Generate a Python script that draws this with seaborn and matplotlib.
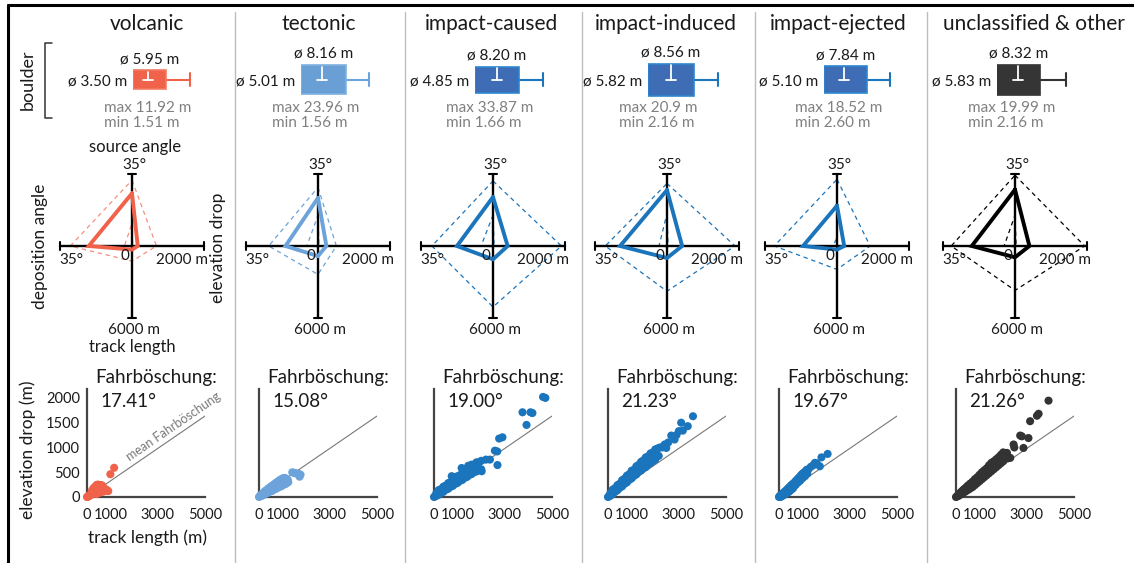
import numpy as np
import matplotlib
matplotlib.use("Agg")
import matplotlib.pyplot as plt
import seaborn as sns
from matplotlib.lines import Line2D

# ---------------- data ----------------
categories = ["volcanic", "tectonic", "impact-caused", "impact-induced",
              "impact-ejected", "unclassified & other"]

# boulder diameters (m)
boulder_q1 = [3.50, 5.01, 4.85, 5.82, 5.10, 5.83]
boulder_q3 = [5.95, 8.16, 8.20, 8.56, 7.84, 8.32]
boulder_med = [4.60, 6.46, 6.50, 7.17, 6.38, 7.05]
boulder_whisker = [7.73, 9.77, 10.03, 9.99, 9.31, 9.83]
boulder_max = ["11.92", "23.96", "33.87", "20.9", "18.52", "19.99"]
boulder_min = ["1.51", "1.56", "1.66", "2.16", "2.60", "2.16"]
boulder_count_h = [19, 29, 26, 32, 27, 30]   # relative box heights

# radar: source angle (deg), elevation drop (m), track length (m), deposition angle (deg)
src_mean = [25.6, 23.4, 23.8, 27.2, 19.6, 27.4]
elev_mean = [160, 233, 407, 420, 200, 400]
track_mean = [300, 840, 1110, 1000, 300, 940]
dep_mean = [21.0, 15.8, 17.5, 22.8, 16.5, 21.0]

src_max = [32.0, 28.5, 31.6, 30.4, 32.4, 34.4]
elev_max = [680, 510, 1900, 1890, 920, 1935]
track_max = [1260, 2370, 5080, 3770, 1950, 3700]
dep_max = [30.0, 24.0, 29.7, 30.0, 30.5, 31.0]

src_min = [11.0, 15.0, 15.0, 15.8, 4.0, 15.0]
elev_min = [20, 30, 30, 30, 10, 30]
track_min = [60, 60, 60, 60, 30, 60]
dep_min = [3.7, 5.4, 5.8, 3.9, 2.0, 5.3]

radar_max_src, radar_max_elev, radar_max_track, radar_max_dep = 35, 2000, 6000, 35

fahrboeschung = ["17.41", "15.08", "19.00", "21.23", "19.67", "21.26"]
mean_fahr_angle = 18.1

# scatter: track length (m) vs elevation drop (m)
vx = [0, 20, 40, 60, 80, 100, 120, 150, 180, 200, 220, 250, 280, 300, 320, 350, 380, 400,
      420, 450, 480, 500, 520, 550, 580, 600, 620, 650, 680, 700, 730, 760, 800, 830, 870,
      900, 200, 250, 300, 350, 400, 450, 500, 550, 600, 650, 400, 500, 600, 700, 990, 1150]
vy = [0, 5, 15, 10, 25, 20, 35, 45, 55, 70, 60, 80, 95, 105, 90, 115, 130, 120,
      150, 165, 140, 180, 200, 220, 190, 240, 210, 230, 200, 185, 170, 160, 150, 140, 130,
      120, 120, 160, 190, 210, 240, 250, 245, 235, 225, 200, 60, 80, 100, 110, 460, 590]

tx = [0, 30, 60, 100, 140, 180, 220, 260, 300, 340, 380, 420, 460, 500, 540, 580, 620, 660,
      700, 740, 780, 820, 860, 900, 940, 980, 1020, 1060, 1100, 1140, 1180, 1220,
      100, 160, 220, 280, 340, 400, 460, 520, 580, 640, 700, 760, 820, 880, 940, 1000,
      1060, 1120, 1180, 1240, 1410, 1480, 1550, 1620, 1690, 1760, 1720]
ty = [0, 15, 30, 50, 70, 80, 100, 120, 130, 140, 165, 175, 185, 210, 220, 225, 250, 260,
      270, 295, 300, 310, 335, 345, 350, 370, 375, 380, 385, 365, 360, 345,
      20, 35, 45, 70, 80, 90, 115, 120, 130, 155, 165, 175, 200, 210, 215, 240,
      255, 260, 285, 300, 498, 490, 480, 470, 465, 451, 410]

cx = [0, 30, 60,
      100, 200, 300, 400, 500, 600, 700, 800, 900, 1000, 1100, 1200, 1300, 1400, 1500, 1600,
      1700, 1800, 1900, 2000,
      100, 200, 300, 400, 500, 600, 700, 800, 900, 1000, 1100, 1200, 1300, 1400, 1500, 1600,
      1700, 1800, 1900, 2000,
      150, 350, 550, 750, 950, 1150, 1350, 1550, 1750,
      750, 850, 880, 1170, 1240, 1450, 1590, 1780, 1950, 2020, 2200, 2370, 2580, 2680, 2690,
      2760, 2900, 3750, 3920, 4090, 4170, 4620, 4720]
cy = [0, 10, 20,
      80, 140, 160, 210, 230, 280, 300, 350, 370, 420, 440, 490, 510, 570, 590, 650,
      650, 700, 700, 730,
      25, 45, 85, 105, 145, 165, 205, 225, 265, 285, 325, 345, 385, 405, 445, 465,
      505, 515, 545, 560,
      50, 120, 190, 260, 330, 400, 470, 540, 610,
      420, 400, 360, 585, 550, 630, 650, 670, 550, 520, 755, 755, 935, 920, 645,
      1180, 1205, 1710, 1455, 1710, 1695, 2020, 2000]

ix = [0, 30, 60,
      100, 200, 300, 400, 500, 600, 700, 800, 900, 1000, 1100, 1200, 1300, 1400, 1500, 1600,
      1700, 1800, 1900, 2000, 2100, 2200,
      100, 200, 300, 400, 500, 600, 700, 800, 900, 1000, 1100, 1200, 1300, 1400, 1500, 1600,
      1700, 1800, 1900, 2000,
      150, 350, 550, 750, 950, 1150, 1350, 1550, 1750,
      2050, 2150, 2300, 2400, 2470, 2550, 2680, 2820, 2900, 3000, 3100, 3170, 3380, 3600]
iy = [0, 10, 25,
      80, 150, 180, 240, 270, 340, 370, 430, 460, 530, 550, 620, 650, 710, 740, 800,
      820, 880, 900, 960, 980, 1000,
      25, 55, 105, 135, 185, 215, 265, 295, 345, 375, 425, 455, 505, 535, 585, 605,
      655, 685, 725, 755,
      50, 140, 230, 320, 410, 490, 580, 660, 750,
      960, 830, 1000, 1060, 990, 1100, 1240, 1160, 1250, 1330, 1500, 1340, 1430, 1630]

ex = [0, 20, 40, 60, 80, 100, 130, 160, 200, 240, 280, 320, 360, 400, 450, 500, 550, 600,
      50, 100, 150, 200, 250, 300, 350, 400, 450, 500, 550, 600,
      650, 700, 750, 800, 850, 900, 950, 1000, 1050, 1100, 1170, 1250, 1350, 1450, 1520, 1600,
      1730, 1800, 2060, 700, 800, 900, 1000, 1100, 1200]
ey = [0, 10, 20, 30, 35, 45, 55, 70, 90, 105, 120, 140, 160, 180, 200, 230, 250, 270,
      0, 10, 25, 40, 55, 70, 85, 100, 120, 140, 160, 180,
      290, 320, 340, 370, 390, 420, 450, 470, 490, 510, 550, 560, 610, 640, 690, 680,
      620, 800, 870, 240, 290, 330, 380, 420, 470]

ux = [0, 30, 60, 100, 150, 200, 250, 300, 350, 400, 450, 500, 600, 700, 800, 900, 1000, 1100,
      1200, 1300, 1400, 1500, 1600, 1700, 1800, 1900, 2000, 2100,
      100, 200, 300, 400, 500, 600, 700, 800, 900, 1000, 1100, 1200, 1300, 1400, 1500, 1600,
      1700, 1800, 1900, 2000,
      2200, 2300, 2160, 2440, 2470, 2720, 2790, 2860, 3070, 3140, 3430, 3500, 3920]
uy = [0, 10, 20, 45, 70, 95, 115, 140, 160, 180, 200, 230, 270, 310, 360, 400, 450, 500,
      540, 580, 640, 690, 720, 760, 800, 850, 900, 880,
      20, 50, 80, 110, 140, 170, 200, 240, 280, 320, 360, 400, 440, 480, 520, 560,
      600, 640, 680, 720,
      780, 790, 890, 1060, 1000, 1240, 1225, 990, 1190, 1530, 1640, 1680, 1945]

scatter_x = [vx, tx, cx, ix, ex, ux]
scatter_y = [vy, ty, cy, iy, ey, uy]

# ---------------- layout / style ----------------
W, H = 1134, 563
col_center = [147, 319, 492, 666, 838, 1034]
box_left_px = [133, 301, 475, 648, 824, 997]
whisk_px = [190, 369, 543, 718, 890, 1066]
radar_cx = [132, 318, 493, 667, 837, 1015]
radar_cy = 246
R = 72
scatter_left = [87, 259, 434, 608, 779, 956]
separators = [235, 405, 582, 755, 927]

c_main = ['#F0624A', '#6CA3DB', '#1B75BC', '#1B75BC', '#1B75BC', '#000000']
c_dash = ['#F4907E', '#6CA3DB', '#1B75BC', '#1B75BC', '#1B75BC', '#000000']
c_scat = ['#F0624A', '#6CA3DB', '#1B75BC', '#1B75BC', '#1B75BC', '#333333']
c_box = ['#F0624A', '#6A9FD6', '#3F6DB5', '#3F6DB5', '#3F6DB5', '#353535']
c_boxedge = ['#F37A63', '#7FB0E0', '#2B87D0', '#2B87D0', '#2B87D0', '#353535']
c_whisk = ['#F0624A', '#6CA3DB', '#1B75BC', '#1B75BC', '#1B75BC', '#333333']
GRAY = '#808080'
TXT = '#1a1a1a'

sns.set_theme(style="white")
plt.rcParams['font.family'] = ['Lato', 'DejaVu Sans']
plt.rcParams['axes.facecolor'] = 'white'

fig = plt.figure(figsize=(W / 100, H / 100), dpi=100)


def axes_px(l, t, w, h):
    return fig.add_axes([l / W, 1 - (t + h) / H, w / W, h / H])


def ftext(x, y, s, **kw):
    kw.setdefault('color', TXT)
    fig.text(x / W, 1 - y / H, s, **kw)


# frame & separators
fig.add_artist(Line2D([8 / W, 8 / W], [0, 1 - 5 / H], color='black', lw=2.2))
fig.add_artist(Line2D([8 / W, 1], [1 - 5 / H, 1 - 5 / H], color='black', lw=2.2))
for sx in separators:
    fig.add_artist(Line2D([sx / W, sx / W], [0, 1 - 12 / H], color='#BDBDBD', lw=1))

# titles
for i, cat in enumerate(categories):
    ftext(col_center[i], 30, cat, ha='center', va='baseline', fontsize=15)

# boulder label + bracket
ftext(28, 80, "boulder", rotation=90, ha='center', va='center', fontsize=13)
fig.add_artist(Line2D([52 / W, 45 / W, 45 / W, 52 / W],
                      [1 - 43 / H, 1 - 43 / H, 1 - 118 / H, 1 - 118 / H], color='#333333', lw=1.1))

# ---------------- boulder boxes ----------------
for i in range(6):
    l = box_left_px[i]
    w = whisk_px[i] - l
    ax = axes_px(l, 79.5 - 20, w, 40)
    q1, q3, med, wh = boulder_q1[i], boulder_q3[i], boulder_med[i], boulder_whisker[i]
    ax.set_xlim(q1, wh)
    ax.set_ylim(-20, 20)
    ax.axis('off')
    h = boulder_count_h[i]
    mpp = (wh - q1) / w  # metres per pixel
    ax.plot([q3, wh], [0, 0], color=c_whisk[i], lw=1.5, solid_capstyle='butt', clip_on=False, zorder=1)
    ax.plot([wh, wh], [-6.5, 6.5], color=c_whisk[i], lw=1.5, clip_on=False, zorder=1)
    ax.barh(0, q3 - q1, left=q1, height=h, color=c_box[i], edgecolor=c_boxedge[i],
            linewidth=1.2, zorder=2)
    ax.plot([med, med], [h / 2 - 1.5, 0], color='white', lw=1.3, zorder=3)
    ax.plot([med - 5 * mpp, med + 5 * mpp], [0, 0], color='white', lw=1.3, zorder=3)
    ax.text((q1 + q3) / 2, h / 2 + 7, f"ø {q3:.2f} m", ha='center', va='baseline',
            fontsize=11, color=TXT)
    ax.annotate(f"ø {q1:.2f} m", xy=(q1, 0), xytext=(-6, -5.5), textcoords='offset pixels',
                ha='right', va='baseline', fontsize=11, color=TXT, annotation_clip=False)
    ax.annotate(f"max {boulder_max[i]} m", xy=(q1, 0), xytext=(-29, -32.5),
                textcoords='offset pixels', ha='left', va='baseline', fontsize=11,
                color=GRAY, annotation_clip=False)
    ax.annotate(f"min {boulder_min[i]} m", xy=(q1, 0), xytext=(-29, -47.5),
                textcoords='offset pixels', ha='left', va='baseline', fontsize=11,
                color=GRAY, annotation_clip=False)

# ---------------- radar charts ----------------
def radar_xy(s, e, t, d):
    xs = [0, e / radar_max_elev, 0, -d / radar_max_dep, 0]
    ys = [s / radar_max_src, 0, -t / radar_max_track, 0, s / radar_max_src]
    return xs, ys


for i in range(6):
    side = 2 * 1.25 * R
    ax = axes_px(radar_cx[i] - side / 2, radar_cy - side / 2, side, side)
    ax.set_xlim(-1.25, 1.25)
    ax.set_ylim(-1.25, 1.25)
    ax.axis('off')
    for s, e, t, d in [(src_max[i], elev_max[i], track_max[i], dep_max[i]),
                       (src_min[i], elev_min[i], track_min[i], dep_min[i])]:
        xs, ys = radar_xy(s, e, t, d)
        ax.plot(xs, ys, color=c_dash[i], lw=0.9, ls=(0, (3.5, 3)), zorder=1)
    ax.plot([-1, 1], [0, 0], color='black', lw=1.7, zorder=2)
    ax.plot([0, 0], [-1, 1], color='black', lw=1.7, zorder=2)
    cap = 0.06
    for (x0, y0, vert) in [(-1, 0, True), (1, 0, True), (0, 1, False), (0, -1, False)]:
        if vert:
            ax.plot([x0, x0], [-cap, cap], color='black', lw=1.5, zorder=2)
        else:
            ax.plot([-cap, cap], [y0, y0], color='black', lw=1.5, zorder=2)
    xs, ys = radar_xy(src_mean[i], elev_mean[i], track_mean[i], dep_mean[i])
    ax.plot(xs, ys, color=c_main[i], lw=2.8, solid_joinstyle='miter', zorder=3)
    fs = 11
    ax.text(0.03, 1.07, "35°", ha='center', va='baseline', fontsize=fs, color=TXT)
    ax.text(-0.84, -0.25, "35°", ha='center', va='baseline', fontsize=fs, color=TXT)
    ax.text(1.05, -0.25, "2000 m", ha='right', va='baseline', fontsize=fs, color=TXT)
    ax.text(-0.1, -0.19, "0", ha='center', va='baseline', fontsize=fs, color=TXT)
    ax.text(0.03, -1.22, "6000 m", ha='center', va='baseline', fontsize=fs, color=TXT)
    if i == 0:
        ax.text(0.04, 1.31, "source angle", ha='center', va='baseline', fontsize=12, color=TXT)
        ax.text(0.0, -1.47, "track length", ha='center', va='baseline', fontsize=12, color=TXT)
        ax.text(-1.28, -0.01, "deposition angle", rotation=90, ha='center', va='center',
                fontsize=12.5, color=TXT)
        ax.text(1.19, -0.03, "elevation drop", rotation=90, ha='center', va='center',
                fontsize=12.5, color=TXT)

# ---------------- scatter plots ----------------
ytop = 2180
line_x = np.array([0, 5000])
for i in range(6):
    ax = axes_px(scatter_left[i], 389, 118, 108)
    ax.plot(line_x, line_x * np.tan(np.radians(mean_fahr_angle)), color='#777777', lw=0.8, zorder=1)
    sns.scatterplot(x=scatter_x[i], y=scatter_y[i], ax=ax, color=c_scat[i], s=34,
                    edgecolor='none', linewidth=0, clip_on=False, zorder=3, legend=False)
    ax.set_xlim(0, 5000)
    ax.set_ylim(0, ytop)
    for sp in ['top', 'right']:
        ax.spines[sp].set_visible(False)
    for sp in ['left', 'bottom']:
        ax.spines[sp].set_color('#444444')
        ax.spines[sp].set_linewidth(1.6)
    ax.set_xticks([0, 1000, 2000, 3000, 4000, 5000])
    ax.set_xticklabels(['0', '1000', '', '3000', '', '5000'])
    ax.set_yticks([0, 500, 1000, 1500, 2000])
    if i == 0:
        ax.set_yticklabels(['0', '500', '1000', '1500', '2000'])
    else:
        ax.set_yticklabels([])
    ax.tick_params(axis='both', direction='in', length=4, width=1.3, colors='#444444',
                   labelcolor=TXT, labelsize=10.5)
    ax.tick_params(axis='x', pad=8)
    ax.tick_params(axis='y', pad=5)
    ax.set_xlabel('')
    ax.set_ylabel('')
    ax.grid(False)
    ax.text(8 / 118, (497 - 383) / 108, "Fahrböschung:", transform=ax.transAxes,
            ha='left', va='baseline', fontsize=13.5, color=TXT)
    ax.text(13 / 118, (497 - 407) / 108, f"{fahrboeschung[i]}°", transform=ax.transAxes,
            ha='left', va='baseline', fontsize=13.5, color=TXT)
    if i == 0:
        ang = np.degrees(np.arctan2(5000 * np.tan(np.radians(mean_fahr_angle)) / ytop * 108, 118))
        ax.text(3650, 1420, "mean Fahrböschung", rotation=ang, rotation_mode='anchor',
                ha='center', va='center', fontsize=9, color='#777777')

ftext(28, 450, "elevation drop (m)", rotation=90, ha='center', va='center', fontsize=12.5)
ftext(148, 538, "track length (m)", ha='center', va='center', fontsize=12.5)

fig.savefig("out.png", dpi=100)
